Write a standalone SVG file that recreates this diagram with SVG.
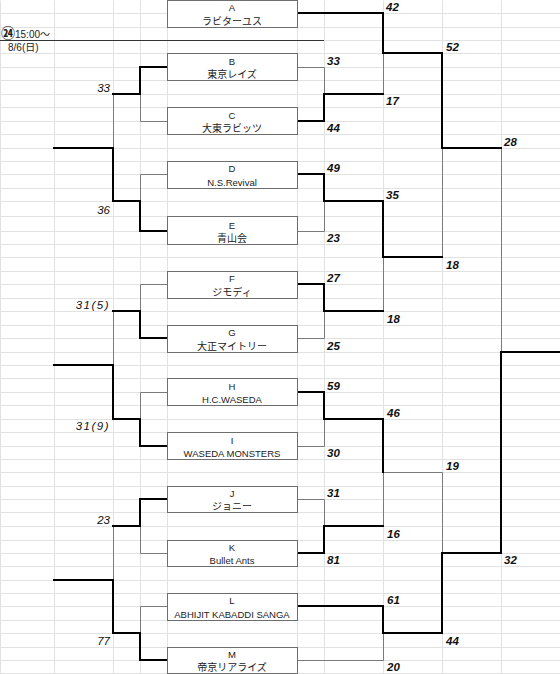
<svg xmlns="http://www.w3.org/2000/svg" width="560" height="674" viewBox="0 0 560 674">
<style>
.grid{stroke:#e2e2e2;stroke-width:1;fill:none}
.thin{stroke:#7a7a7a;stroke-width:1;fill:none}
.thick{stroke:#000;stroke-width:2;fill:none;stroke-linecap:square}
.box{fill:#fff;stroke:#6e6e6e;stroke-width:1}
.bt{font-family:"Liberation Sans","Noto Sans CJK JP",sans-serif;font-size:9.5px;fill:#222;text-anchor:middle}
.jp{font-family:"Noto Sans CJK JP","Liberation Sans",sans-serif;font-size:10px;fill:#222;text-anchor:middle}
.sc{font-family:"Liberation Sans",Arial,sans-serif;font-size:11.5px;font-style:italic;font-weight:bold;fill:#111}
.sl{font-family:"Liberation Sans",Arial,sans-serif;font-size:11.5px;font-style:italic;fill:#111;text-anchor:end}
.dt{font-family:"Liberation Sans","Noto Sans CJK JP",sans-serif;font-size:10px;fill:#222}
.cj{font-family:"Noto Sans CJK JP",sans-serif}
</style>
<rect width="560" height="674" fill="#fff"/>
<g id="grid" class="grid" transform="translate(0.5,0.5)">
<path d="M0,13H560M0,27H560M0,40H560M0,53H560M0,67H560M0,80H560M0,94H560M0,107H560M0,121H560M0,134H560M0,148H560M0,161H560M0,174H560M0,188H560M0,201H560M0,216H560M0,231H560M0,244H560M0,257H560M0,271H560M0,284H560M0,298H560M0,311H560M0,325H560M0,338H560M0,352H560M0,365H560M0,378H560M0,392H560M0,405H560M0,419H560M0,432H560M0,446H560M0,459H560M0,472H560M0,486H560M0,499H560M0,512H560M0,526H560M0,540H560M0,553H560M0,566H560M0,580H560M0,593H560M0,606H560M0,620H560M0,633H560M0,647H560M0,660H560M0,673H560"/>
<path d="M0,0V674M54,0V674M113,0V674M140,0V674M167,0V674M297,0V674M324,0V674M383,0V674M442,0V674M501,0V674"/>
</g>
<g id="date">
<path d="M0,40.5H324" stroke="#333" stroke-width="1"/>
<text class="dt" x="1" y="37.5"><tspan class="cj" font-size="14px" font-weight="bold">㉔</tspan>15:00<tspan class="cj">～</tspan></text>
<text class="dt" x="8" y="51">8/6(<tspan class="cj">日</tspan>)</text>
</g>
<g id="connectors">
<g class="thin" transform="translate(0.5,0.5)">
<path d="M140,94V121H167M113,94V148M140,201V174H167"/>
<path d="M167,284H140V311M113,311V365M140,419V392H167"/>
<path d="M140,526V553H167M113,526V580M140,633V606H167"/>
<path d="M383,53V94M297,67H324V94M324,201V231H297M324,311V338H297M383,257V311M442,148V257M501,148V352"/>
<path d="M383,633V660H297M383,472H442V553M383,472V526M324,419V446H297M324,526V499H297"/>
</g>
<g class="thick">
<path d="M167,67H140V94H113"/>
<path d="M54,148H113V201H140V231H167"/>
<path d="M113,311H140V338H167"/>
<path d="M54,365H113V419H140V446H167"/>
<path d="M167,499H140V526H113"/>
<path d="M54,580H113V633H140V660H167"/>
<path d="M297,13H383V53H442V148H501"/>
<path d="M297,121H324V94H383"/>
<path d="M297,174H324V201H383V257H442"/>
<path d="M297,284H324V311H383"/>
<path d="M560,352H501V553H442V633H383V606H297"/>
<path d="M297,392H324V419H383V472"/>
<path d="M297,553H324V526H383"/>
</g>
</g>
<g id="node-A"><rect class="box" x="167.5" y="0.5" width="130" height="27"/><text class="bt" x="232" y="10.5">A</text><text class="jp" x="232" y="24.5">ラビターユス</text></g>
<g id="node-B"><rect class="box" x="167.5" y="53.5" width="130" height="27"/><text class="bt" x="232" y="64.5">B</text><text class="jp" x="232" y="77.5">東京レイズ</text></g>
<g id="node-C"><rect class="box" x="167.5" y="107.5" width="130" height="27"/><text class="bt" x="232" y="118.5">C</text><text class="jp" x="232" y="131.5">大東ラビッツ</text></g>
<g id="node-D"><rect class="box" x="167.5" y="161.5" width="130" height="27"/><text class="bt" x="232" y="171.5">D</text><text class="bt" x="232" y="185.5">N.S.Revival</text></g>
<g id="node-E"><rect class="box" x="167.5" y="216.5" width="130" height="28"/><text class="bt" x="232" y="228.5">E</text><text class="jp" x="232" y="241.5">青山会</text></g>
<g id="node-F"><rect class="box" x="167.5" y="271.5" width="130" height="27"/><text class="bt" x="232" y="281.5">F</text><text class="jp" x="232" y="295.5">ジモディ</text></g>
<g id="node-G"><rect class="box" x="167.5" y="325.5" width="130" height="27"/><text class="bt" x="232" y="335.5">G</text><text class="jp" x="232" y="349.5">大正マイトリー</text></g>
<g id="node-H"><rect class="box" x="167.5" y="378.5" width="130" height="27"/><text class="bt" x="232" y="389.5">H</text><text class="bt" x="232" y="402.5">H.C.WASEDA</text></g>
<g id="node-I"><rect class="box" x="167.5" y="432.5" width="130" height="27"/><text class="bt" x="232" y="443.5">I</text><text class="bt" x="232" y="456.5">WASEDA MONSTERS</text></g>
<g id="node-J"><rect class="box" x="167.5" y="486.5" width="130" height="26"/><text class="bt" x="232" y="496.5">J</text><text class="jp" x="232" y="509.5">ジョニー</text></g>
<g id="node-K"><rect class="box" x="167.5" y="540.5" width="130" height="26"/><text class="bt" x="232" y="550.5">K</text><text class="bt" x="232" y="563.5">Bullet Ants</text></g>
<g id="node-L"><rect class="box" x="167.5" y="593.5" width="130" height="27"/><text class="bt" x="232" y="603.5">L</text><text class="bt" x="232" y="617.5">ABHIJIT KABADDI SANGA</text></g>
<g id="node-M"><rect class="box" x="167.5" y="647.5" width="130" height="26"/><text class="bt" x="232" y="657.5">M</text><text class="jp" x="232" y="670.5">帝京リアライズ</text></g>
<g id="scores">
<text class="sc" x="386" y="11">42</text>
<text class="sc" x="327" y="65">33</text>
<text class="sc" x="386" y="105">17</text>
<text class="sc" x="446" y="51">52</text>
<text class="sc" x="327" y="132">44</text>
<text class="sc" x="504" y="146">28</text>
<text class="sc" x="327" y="172">49</text>
<text class="sc" x="386" y="199">35</text>
<text class="sc" x="327" y="242">23</text>
<text class="sc" x="446" y="269">18</text>
<text class="sc" x="327" y="282">27</text>
<text class="sc" x="387" y="323">18</text>
<text class="sc" x="327" y="350">25</text>
<text class="sc" x="327" y="390">59</text>
<text class="sc" x="387" y="417">46</text>
<text class="sc" x="327" y="457">30</text>
<text class="sc" x="446" y="470">19</text>
<text class="sc" x="327" y="497">31</text>
<text class="sc" x="387" y="538">16</text>
<text class="sc" x="327" y="564">81</text>
<text class="sc" x="504" y="564">32</text>
<text class="sc" x="387" y="604">61</text>
<text class="sc" x="446" y="645">44</text>
<text class="sc" x="387" y="671">20</text>
<text class="sl" x="110" y="92">33</text>
<text class="sl" x="110" y="214">36</text>
<text class="sl" x="110" y="309" letter-spacing="1.5">31(5)</text>
<text class="sl" x="110" y="430" letter-spacing="1.5">31(9)</text>
<text class="sl" x="110" y="524">23</text>
<text class="sl" x="110" y="645">77</text>
</g>
</svg>
